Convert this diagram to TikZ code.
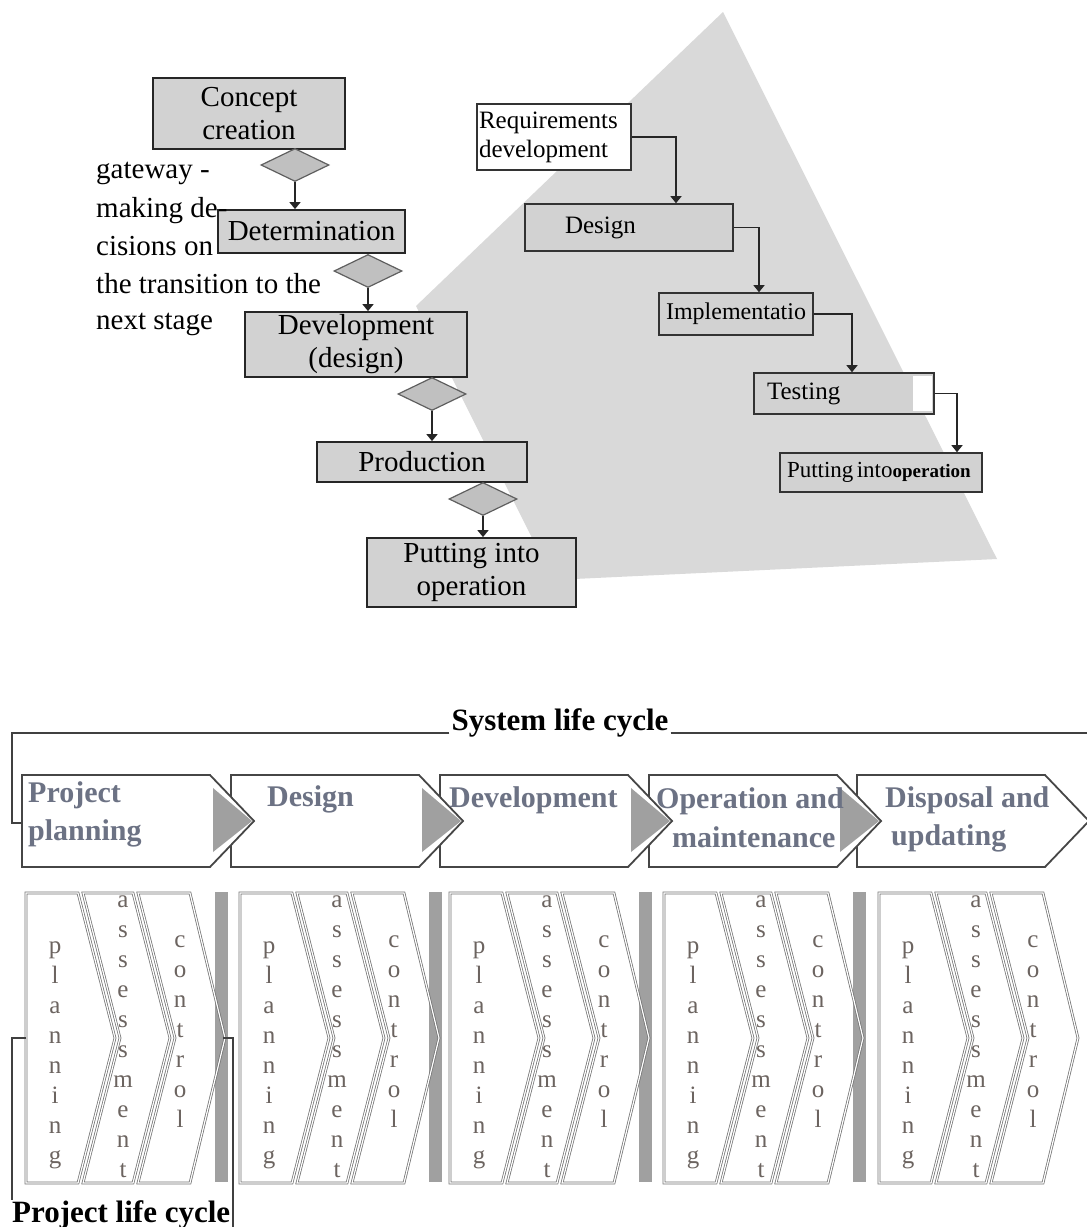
\documentclass[tikz,border=0pt]{standalone}
\usepackage{fontspec}
\setmainfont{Liberation Serif}
\usetikzlibrary{shapes.geometric,arrows.meta}
\definecolor{trigray}{RGB}{217,217,217}
\definecolor{boxgray}{RGB}{210,210,210}
\definecolor{diagray}{RGB}{192,192,192}
\definecolor{diaedge}{RGB}{95,95,95}
\definecolor{slate}{RGB}{108,114,132}
\definecolor{lettercol}{RGB}{108,100,96}
\definecolor{chevedge}{RGB}{70,70,70}
\definecolor{tipgray}{RGB}{160,160,160}
\definecolor{schevedge}{RGB}{115,115,115}
\newcommand\myfs[2]{\fontsize{#1}{#2}\selectfont}
\begin{document}
\begin{tikzpicture}[x=1pt,y=-1pt,
  gbox/.style={draw=black!85, line width=1.8pt, fill=boxgray, inner sep=0pt, align=center, font=\myfs{29}{33}},
  wbox/.style={draw=black!80, line width=1.6pt, fill=white, inner sep=0pt},
  rbox/.style={draw=black!80, line width=1.6pt, fill=boxgray, inner sep=0pt},
  gate/.style={diamond, draw=diaedge, line width=1.2pt, fill=diagray, minimum width=68pt, minimum height=33pt, inner sep=0pt},
  arr/.style={draw=black!85, line width=1.5pt, -{Triangle[width=11pt,length=7pt]}},
  gtext/.style={font=\myfs{29}{38}, anchor=base west, inner sep=0pt},
  ctext/.style={font=\bfseries\myfs{30}{36}, text=slate, anchor=base west, inner sep=0pt},
  bchev/.style={draw=chevedge, line width=1.8pt, fill=white, line join=miter},
  schev/.style={draw=schevedge, double=white, double distance=1.2pt, line width=0.75pt},
  letter/.style={font=\myfs{25}{30}, text=lettercol, anchor=base, inner sep=0pt},
  brk/.style={draw=black!75, line width=1.6pt},
  title/.style={font=\bfseries\myfs{31}{36}, inner sep=0pt}
]
\useasboundingbox (0,0) rectangle (1087,1227);
\fill[white] (0,0) rectangle (1087,1227);

% ---------- background pyramid ----------
\fill[trigray] (723,12) -- (416,306) -- (553,580) -- (997,559) -- cycle;

% ---------- stage-gate flow ----------
\node[gbox, minimum width=192pt, minimum height=71pt] (cc) at (249,113.5) {Concept\\creation};
\node[gate] (d1) at (295,165) {};
\node[gbox, minimum width=187pt, minimum height=43pt] (det) at (311.5,231.5) {Determination};
\node[gate] (d2) at (368,271) {};
\node[gbox, minimum width=222pt, minimum height=65pt] (dev) at (356,344.5) {Development\\(design)};
\node[gate] (d3) at (432,394) {};
\node[gbox, minimum width=210pt, minimum height=40pt] (prod) at (422,462) {Production};
\node[gate] (d4) at (483,499) {};
\node[gbox, minimum width=209pt, minimum height=69pt] (pinto) at (471.5,572.5) {Putting into\\operation};

\draw[arr] (d1.south) -- (d1.south |- det.north);
\draw[arr] (d2.south) -- (d2.south |- dev.north);
\draw[arr] (d3.south) -- (d3.south |- prod.north);
\draw[arr] (d4.south) -- (d4.south |- pinto.north);

% ---------- gateway text ----------
\node[gtext] (g1) at (96,178) {gateway -};
\node[gtext] (g2) at (96,217) {making de-};
\node[gtext] (g3) at (96,255) {cisions on};
\node[gtext] (g4) at (96,293) {the transition to the};
\node[gtext] (g5) at (96,329) {next stage};

% ---------- waterfall ----------
\node[wbox, minimum width=154pt, minimum height=66pt, text width=150pt, align=left, font=\myfs{25}{29}] (req) at (554,137) {Requirements\\development};
\node[rbox, minimum width=208pt, minimum height=47pt, text width=200pt, align=left, font=\myfs{25}{29}] (des) at (629,227.5) {\hspace*{36pt}Design};
\node[rbox, minimum width=154pt, minimum height=42pt, font=\myfs{24}{28}] (imp) at (736,314) {Implementatio};
\node[rbox, minimum width=180pt, minimum height=41pt, text width=172pt, align=left, font=\myfs{25}{29}] (tst) at (844,393.5) {\hspace*{9pt}Testing};
\node[rbox, minimum width=202pt, minimum height=39pt, text width=196pt, align=left] (pio) at (881,472.5) {\hspace*{4pt}\myfs{23}{27}Putting into{\bfseries\myfs{19}{23}operation}};
\fill[white] (913,376) rectangle (932,411);

\draw[arr] (req.east) -| ([xshift=47pt]des.north);
\draw[arr] (des.east) -| ([xshift=23pt]imp.north);
\draw[arr] (imp.east) -| ([xshift=8pt]tst.north);
\draw[arr] (tst.east) -| ([xshift=76pt]pio.north);

% ---------- system life cycle ----------
\node[title, anchor=base] (sys) at (560,730) {System life cycle};
\draw[brk] (sys.base west) ++(-2,3) -- (12,733) -- (12,823) -- (22,823);
\draw[brk] (sys.base east) ++(2,3) -- (1087,733);

\foreach \L in {857,649,440,231,22} {
  \draw[bchev] (\L,775) -- ++(188,0) -- ++(44,46) -- ++(-44,46) -- ++(-188,0) -- cycle;
}
\foreach \L in {22,231,440,649} {
  \fill[tipgray] ({\L+191},788) -- ({\L+230},821) -- ({\L+191},852) -- cycle;
}

\node[ctext] (t1a) at (28,802) {Project};
\node[ctext] (t1b) at (28,840) {planning};
\node[ctext] (t2) at (267,806) {Design};
\node[ctext] (t3) at (449,807) {Development};
\node[ctext] (t4a) at (656,808) {Operation and};
\node[ctext] (t4b) at (672,847) {maintenance};
\node[ctext] (t5a) at (885,807) {Disposal and};
\node[ctext] (t5b) at (891,845) {updating};

% ---------- project life cycles ----------
\foreach \L [count=\g] in {26,240,450,664,879} {
  \ifnum\g<5
    \fill[tipgray] ({\L+189},892) rectangle ({\L+202},1182);
  \fi
  \draw[schev] (\L,893) -- ++(52,0) -- ++(37,145) -- ++(-37,145) -- ++(-52,0) -- cycle;
  \draw[schev] ({\L+57},893) -- ++(50,0) -- ++(37,145) -- ++(-37,145) -- ++(-50,0) -- ++(37,-145) -- cycle;
  \draw[schev] ({\L+112},893) -- ++(52,0) -- ++(35,145) -- ++(-35,145) -- ++(-52,0) -- ++(37,-145) -- cycle;
  \foreach \ch [count=\i] in {p,l,a,n,n,i,n,g}
    \node[letter] (pl\g-\i) at ({\L+29},{953+30*(\i-1)}) {\ch};
  \foreach \ch [count=\i] in {a,s,s,e,s,s,m,e,n,t}
    \node[letter] (as\g-\i) at ({\L+97},{907+30*(\i-1)}) {\ch};
  \foreach \ch [count=\i] in {c,o,n,t,r,o,l}
    \node[letter] (co\g-\i) at ({\L+154},{947+30*(\i-1)}) {\ch};
}

\node[title, anchor=base west] (plc) at (12,1222) {Project life cycle};
\draw[brk] (26,1038) -- (12,1038) -- (12,1200);
\draw[brk] (223,1038) -- (233,1038) -- (233,1227);
\end{tikzpicture}
\end{document}
